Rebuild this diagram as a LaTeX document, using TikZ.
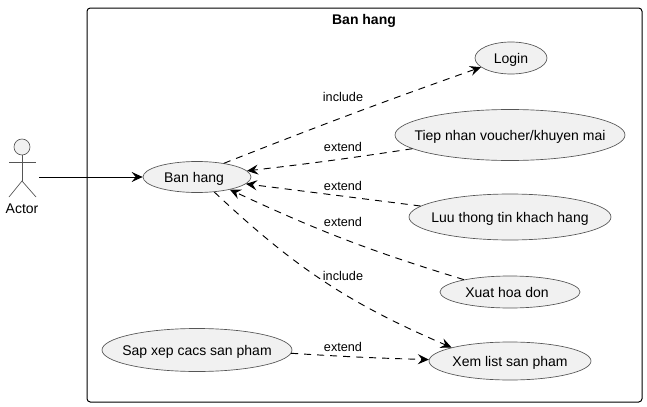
\documentclass[tikz,border=0pt]{standalone}
\usepackage{fontspec}
\setmainfont{Liberation Sans}
\usetikzlibrary{shapes.geometric, arrows.meta}

\definecolor{ucfill}{HTML}{F1F1F1}
\definecolor{ucline}{HTML}{555555}
\newcommand{\uctext}[2][0pt]{\makebox[0pt]{\hspace*{#1}#2}}

\tikzset{
	usecase/.style 2 args={ellipse, draw=ucline, fill=ucfill, line width=0.5pt, inner sep=0pt,
		minimum width=#1*0.75pt, minimum height=#2*0.75pt, font=\fontsize{10.5}{12}\selectfont,
		text height=8.7pt, text depth=1pt},
	relation/.style={line width=0.7pt, dash pattern=on 5.25pt off 4.5pt, -{Stealth[length=8.25pt, width=7.5pt, inset=3pt]}},
	rellabel/.style={font=\fontsize{9.5}{11}\selectfont, inner sep=0pt},
	stick/.style={draw=ucline, line width=0.5pt}
}

\begin{document}
\begin{tikzpicture}[x=0.75pt, y=-0.75pt]
	\useasboundingbox (0,0) rectangle (647,407);
	
	% System boundary
	\draw[line width=0.75pt, rounded corners=2.5pt] (87,8) rectangle (642,402);
	\node[font=\bfseries\fontsize{10.5}{12}\selectfont, inner sep=0pt] (title) at (364,21) {Ban hang};
	
	% Actor
	\node[circle, stick, fill=ucfill, minimum size=12pt, inner sep=0pt] (head) at (22,147) {};
	\coordinate (hip) at (22,181);
	\coordinate (armL) at (9,162);
	\coordinate (armR) at (36,162);
	\coordinate (legL) at (9,197);
	\coordinate (legR) at (36,197);
	\coordinate (actorout) at (39,177);
	\draw[stick] (head) -- (hip);
	\draw[stick] (armL) -- (armR);
	\draw[stick] (legL) -- (hip) -- (legR);
	\node[font=\fontsize{10.5}{12}\selectfont, inner sep=0pt] (actor) at (22,209) {Actor};
	
	% Use cases
	\node[usecase={108}{31}] (banhang) at (197,177) {\uctext[-4.5pt]{Ban hang}};
	\node[usecase={72}{32}] (login) at (511,58) {\uctext{Login}};
	\node[usecase={230}{51}] (tiepnhan) at (510,135) {\uctext{Tiep nhan voucher/khuyen mai}};
	\node[usecase={202}{46}] (luutt) at (510,217) {\uctext{Luu thong tin khach hang}};
	\node[usecase={140}{32}] (xuathd) at (510,292) {\uctext[-4.5pt]{Xuat hoa don}};
	\node[usecase={162}{38}] (xemlist) at (510,361) {\uctext{Xem list san pham}};
	\node[usecase={190}{43}] (sapxep) at (197,350) {\uctext{Sap xep cacs san pham}};
	
	% Connectors
	\draw[line width=0.7pt, -{Stealth[length=8.25pt, width=7.5pt, inset=3pt]}] (actorout) -- (banhang.west |- actorout);
	\draw[relation] (banhang.27) to[bend left=1] (login.197);
	\draw[relation] (tiepnhan.188) to[bend left=1] (banhang.7);
	\draw[relation] (luutt.173) to (banhang.-8);
	\draw[relation] (xuathd.165) to[bend left=4] (banhang.-21);
	\draw[relation] (banhang.-41) to[bend right=10] (xemlist.167);
	\draw[relation] (sapxep.-2) to[bend right=1] (xemlist.179);
	
	% Connector labels
	\node[rellabel] (lblinclude) at (343,97) {include};
	\node[rellabel] (lblextend) at (343,147) {extend};
	\node[rellabel] (lblextendb) at (343,186) {extend};
	\node[rellabel] (lblextendc) at (343,222) {extend};
	\node[rellabel] (lblincludeb) at (343,276) {include};
	\node[rellabel] (lblextendd) at (343,347) {extend};
\end{tikzpicture}
\end{document}
